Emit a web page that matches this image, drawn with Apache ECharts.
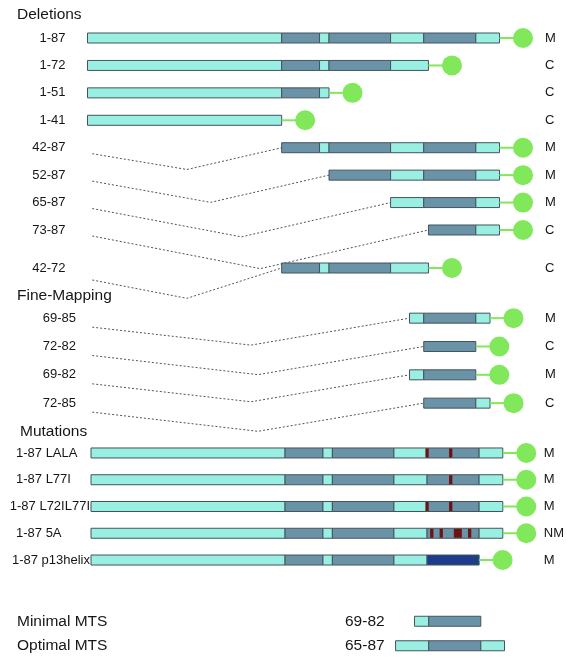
<!DOCTYPE html>
<html><head><meta charset="utf-8">
<script src="https://cdn.jsdelivr.net/npm/echarts@6/dist/echarts.min.js"></script>
<style>html,body{margin:0;padding:0;background:#fff}#c{width:567px;height:658px}</style>
</head><body><div id="c"></div><script>
// ---------------- data ----------------
const sectionTitles = ['Deletions', 'Fine-Mapping', 'Mutations'];
const deletionLabels = ['1-87', '1-72', '1-51', '1-41', '42-87', '52-87', '65-87', '73-87'];
const deletionResults = ['M', 'C', 'C', 'C', 'M', 'M', 'M', 'C'];
const extraLabels = ['42-72'];
const extraResults = ['C'];
const fineLabels = ['69-85', '72-82', '69-82', '72-85'];
const fineResults = ['M', 'C', 'M', 'C'];
const mutationLabels = ['1-87 LALA', '1-87 L77I', '1-87 L72IL77I', '1-87 5A', '1-87 p13helix'];
const mutationResults = ['M', 'M', 'M', 'NM', 'M'];
const mutationSites = [[72, 77], [77], [72, 77], [73, 75, 78, 79, 81], []];
const mutationEnds = [87, 87, 87, 87, 82];
const helixReplaced = [false, false, false, false, true];
const summaryLabels = ['Minimal MTS', 'Optimal MTS'];
const summaryRanges = ['69-82', '65-87'];
// protein regions (residue ranges) and their kind: c = light, d = dark
const domainFrom = [1, 42, 50, 52, 65, 72, 83];
const domainTo = [41, 49, 51, 64, 71, 82, 87];
const domainKind = ['c', 'd', 'c', 'd', 'c', 'd', 'c'];

// ---------------- styles ----------------
const FONT = '"Liberation Sans", Arial, sans-serif';
const TXT = '#161616';
const COL = { c: '#98efe2', d: '#6b93a8', h: '#1d3d8c', m: '#6c1414', g: '#80e85a', b: '#43545c', dash: '#555' };
const BAR_H = 10, CIRCLE_R = 10, CIRCLE_GAP = 23.5;

function segments(from, to, helix) {
  const out = [];
  for (let i = 0; i < domainFrom.length; i++) {
    const a = Math.max(from, domainFrom[i]) - 1, b = Math.min(to, domainTo[i]);
    if (b > a) out.push([a, b, (helix && domainFrom[i] === 72) ? 'h' : domainKind[i]]);
  }
  if (out.length > 1 && out[out.length - 1][1] - out[out.length - 1][0] <= 1) {
    const l = out.pop(); out[out.length - 1][1] = l[1];
  }
  if (out.length > 1 && out[0][1] - out[0][0] <= 1) {
    const f = out.shift(); out[0][0] = f[0];
  }
  return out;
}
function parseRange(s) { return s.split('-').map(Number); }

function makeRender(cfg) {
  return function (params, api) {
    const i = params.dataIndex;
    const from = api.value(0), to = api.value(1), row = api.value(2);
    const y = api.coord([0, row])[1];
    const X = v => api.coord([v, row])[0];
    const children = [];
    // dashed connector for N-terminal deletions
    if (cfg.dip && from > 1) {
      const x0 = X(1), x1 = X(from - 1), xm = (x0 + x1) / 2;
      children.push({
        type: 'polyline', silent: true,
        shape: { points: [[x0, y + cfg.drop], [xm, y + cfg.dip * (x1 - x0)], [x1, y]] },
        style: { stroke: COL.dash, lineWidth: 1, lineDash: [2, 2], fill: null }
      });
    }
    const segs = segments(from, to, cfg.helix ? cfg.helix[i] : false);
    segs.forEach(s => {
      const xa = X(s[0]), xb = X(s[1]);
      children.push({ type: 'rect', shape: { x: xa, y: y - BAR_H / 2, width: xb - xa, height: BAR_H },
        style: { fill: COL[s[2]], stroke: COL.b, lineWidth: 1 } });
    });
    if (cfg.sites) {
      const list = cfg.sites[i].slice().sort((a, b) => a - b);
      const blocks = [];
      list.forEach(r => {
        const last = blocks[blocks.length - 1];
        if (last && r - last[1] === 1) last[1] = r; else blocks.push([r, r]);
      });
      blocks.forEach(bk => {
        const xa = X(bk[0] - 1.35), xb = X(bk[1] - 0.65);
        children.push({ type: 'rect', shape: { x: xa, y: y - BAR_H / 2 + 0.5, width: xb - xa, height: BAR_H - 1 },
          style: { fill: COL.m } });
      });
    }
    if (cfg.circle) {
      const xe = X(to), xc = xe + CIRCLE_GAP;
      children.push({ type: 'line', shape: { x1: xe, y1: y, x2: xc, y2: y }, style: { stroke: COL.g, lineWidth: 2 } });
      children.push({ type: 'circle', shape: { cx: xc, cy: y, r: CIRCLE_R }, style: { fill: COL.g } });
    }
    return { type: 'group', children: children };
  };
}

// measure label widths
const mctx = document.createElement('canvas').getContext('2d');
mctx.font = '13px ' + FONT;

const grids = [
  { left: 87.5, width: 412, top: 24.3, height: 219.4 },   // deletions
  { left: 87.5, width: 412, top: 254, height: 28 },       // 42-72
  { left: 87.5, width: 412, top: 304, height: 113.3 },    // fine mapping
  { left: 91, width: 413, top: 439.6, height: 133.8 },    // mutations
  { left: 92.5, width: 412, top: 609, height: 52 }        // summary
];
const rowSets = [deletionLabels, extraLabels, fineLabels, mutationLabels, summaryLabels];
const resultSets = [deletionResults, extraResults, fineResults, mutationResults, null];

const xAxis = grids.map((g, k) => ({ type: 'value', gridIndex: k, min: 0, max: 87, show: false }));
const yAxis = [];
const labelBase = { fontSize: 13, color: TXT, fontFamily: FONT };
const bigLabel = { fontSize: 15.5, color: TXT, fontFamily: FONT };
rowSets.forEach((rows, k) => {
  let axisLabel;
  if (k === 3) {
    axisLabel = Object.assign({}, labelBase, {
      align: 'right', margin: 1,
      formatter: v => (mctx.measureText(v).width > 73 ? '{r|' + v + '}' : '{l|' + v + '}'),
      rich: { l: Object.assign({}, labelBase, { width: 74, align: 'left' }), r: Object.assign({}, labelBase) }
    });
  } else if (k === 4) {
    axisLabel = Object.assign({}, bigLabel, {
      align: 'left', margin: grids[4].left - 17,
      formatter: (v, idx) => '{a|' + v + '}{b|' + summaryRanges[idx] + '}',
      rich: { a: Object.assign({}, bigLabel, { width: 328 }), b: Object.assign({}, bigLabel) }
    });
  } else {
    axisLabel = Object.assign({}, labelBase, { margin: k === 2 ? 11.5 : 22, padding: [5, 0, 0, 0] });
  }
  yAxis.push({ type: 'category', gridIndex: k, data: rows, inverse: true, position: 'left',
    axisLine: { show: false }, axisTick: { show: false }, splitLine: { show: false }, axisLabel: axisLabel });
  if (resultSets[k]) {
    const res = resultSets[k];
    yAxis.push({ type: 'category', gridIndex: k, data: rows, inverse: true, position: 'right',
      axisLine: { show: false }, axisTick: { show: false }, splitLine: { show: false },
      axisLabel: Object.assign({}, labelBase, { align: 'left', margin: 545 - (grids[k].left + grids[k].width),
        formatter: (v, idx) => res[idx] }) });
  }
});
const leftAxisIdx = []; let c = 0;
rowSets.forEach((r, k) => { leftAxisIdx.push(c); c += resultSets[k] ? 2 : 1; });

const seriesCfg = [
  { data: deletionLabels.map(l => { const r = parseRange(l); return [r[0], r[1], l]; }), cfg: { circle: true, dip: 0.115, drop: 6 } },
  { data: extraLabels.map(l => { const r = parseRange(l); return [r[0], r[1], l]; }), cfg: { circle: true, dip: 0.16, drop: 12 } },
  { data: fineLabels.map(l => { const r = parseRange(l); return [r[0], r[1], l]; }), cfg: { circle: true, dip: 0.085, drop: 9 } },
  { data: mutationLabels.map((l, i) => [1, mutationEnds[i], l]), cfg: { circle: true, sites: mutationSites, helix: helixReplaced } },
  { data: summaryLabels.map((l, i) => { const r = parseRange(summaryRanges[i]); return [r[0], r[1], l]; }), cfg: {} }
];

const option = {
  animation: false,
  backgroundColor: '#fff',
  title: sectionTitles.map((t, i) => ({
    text: t, left: [17, 17, 20][i], top: [7, 288, 424][i], padding: 0,
    textStyle: { fontSize: 15.5, fontWeight: 'normal', color: TXT, fontFamily: FONT }
  })),
  grid: grids.map(g => Object.assign({ containLabel: false }, g)),
  xAxis: xAxis,
  yAxis: yAxis,
  series: seriesCfg.map((s, k) => ({
    type: 'custom', coordinateSystem: 'cartesian2d', xAxisIndex: k, yAxisIndex: leftAxisIdx[k],
    clip: false, encode: { x: [0, 1], y: 2 }, data: s.data, renderItem: makeRender(s.cfg)
  }))
};
const chart = echarts.init(document.getElementById('c'), null, { renderer: 'canvas' });
chart.setOption(option);
</script></body></html>
